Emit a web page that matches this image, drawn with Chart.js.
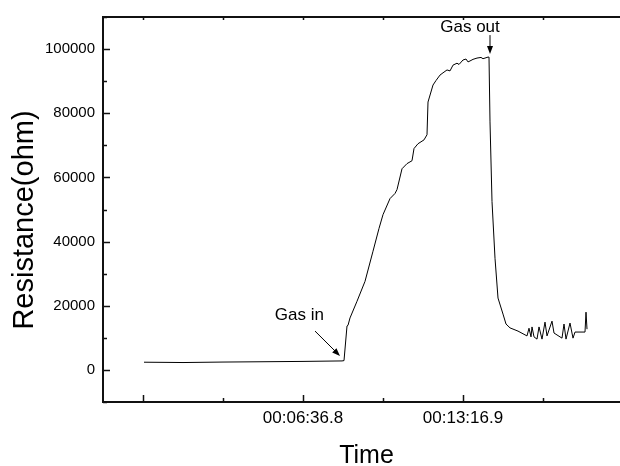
<!DOCTYPE html>
<html>
<head>
<meta charset="utf-8">
<script src="https://cdn.jsdelivr.net/npm/chart.js@4"></script>
<style>
  html, body { margin: 0; padding: 0; overflow: hidden; background: #fff; }
  #wrap { width: 620px; height: 466px; overflow: hidden; }
</style>
</head>
<body>
<div id="wrap"><canvas id="sensorChart" width="630" height="466"></canvas></div>
<script>
// time in seconds (0 = first x tick), resistance in ohm
const timeSec = [
  2.5, 60, 100, 200, 300, 400, 497.5, 502.5,
  510, 512.5, 517.5, 535, 555, 575, 590, 600, 617.5, 630, 635,
  647.5, 660, 672.5, 677.5, 687.5, 702.5, 710, 712.5, 725, 732.5, 742.5,
  750, 760, 767.5, 775, 785, 790, 800, 807.5, 812.5, 817.5, 825, 835, 845, 850, 862.5, 865,
  867.5, 872.5, 880, 887.5, 900, 907.5, 917.5, 937.5, 960,
  965, 970, 972.5, 977.5, 985, 990, 997.5, 1005, 1010, 1022.5,
  1027.5, 1047.5, 1052.5, 1057.5, 1067.5, 1075, 1080, 1105, 1107.5, 1110
];
const resistance = [
  2400, 2350, 2300, 2450, 2550, 2650, 2800, 2900,
  13700, 13900, 16200, 21400, 27600, 37000, 44100, 48400, 53400, 55000, 56200,
  62700, 64300, 65200, 69000, 70500, 71700, 73300, 83500, 88800, 90200, 91900,
  92600, 93500, 93200, 95000, 95600, 95200, 96600, 96900, 96000, 96300, 96800, 97200, 97400, 97000, 97500, 97500,
  77300, 52500, 34800, 22400, 17400, 14300, 13100, 12100, 10600,
  13000, 10300, 13400, 10300, 9600, 13400, 9600, 14900, 10600, 15200,
  11500, 9900, 14300, 9600, 14600, 9900, 11800, 11800, 18000, 12700
];

const xTicks = [0, 200, 400, 600, 800, 1000];
const xTickLabels = ['', '', '00:06:36.8', '', '00:13:16.9', ''];
const xMajor = [0, 400, 800];

// annotations: label, text anchor (x, y), arrow tail (x, y), arrow tip (x, y)
const noteLabels = ['Gas in', 'Gas out'];
const noteText = [[391, 15530], [817.5, 105290]];
const noteTail = [[430, 12110], [867.5, 104360]];
const noteTip = [[492.5, 4350], [867.5, 98460]];

const FONT = '"Liberation Sans", Arial, sans-serif';

const framePlugin = {
  id: 'frame',
  afterDraw(chart) {
    const { ctx, chartArea: a, scales } = chart;
    const xs = scales.x, ys = scales.y;
    ctx.save();
    ctx.strokeStyle = '#111';
    ctx.lineWidth = 2;
    ctx.beginPath();
    ctx.moveTo(a.right + 5, a.top); ctx.lineTo(a.left, a.top);
    ctx.lineTo(a.left, a.bottom); ctx.lineTo(a.right + 5, a.bottom);
    ctx.stroke();

    ctx.lineWidth = 1.5;
    ctx.beginPath();
    xTicks.forEach(v => {
      const px = Math.round(xs.getPixelForValue(v)) + 0.5;
      const len = xMajor.includes(v) ? 7 : 4;
      ctx.moveTo(px, a.bottom); ctx.lineTo(px, a.bottom - len);
      ctx.moveTo(px, a.top); ctx.lineTo(px, a.top + 3);
    });
    for (let v = -10000; v <= 110000; v += 10000) {
      const py = Math.round(ys.getPixelForValue(v)) + 0.5;
      const len = (v % 20000 === 0) ? 7 : 4;
      ctx.moveTo(a.left, py); ctx.lineTo(a.left + len, py);
    }
    ctx.stroke();

    // annotations
    ctx.fillStyle = '#000';
    ctx.strokeStyle = '#000';
    ctx.lineWidth = 1;
    ctx.font = '17px ' + FONT;
    ctx.textAlign = 'center';
    ctx.textBaseline = 'alphabetic';
    noteLabels.forEach((lab, i) => {
      ctx.fillText(lab, xs.getPixelForValue(noteText[i][0]), ys.getPixelForValue(noteText[i][1]));
      const x0 = xs.getPixelForValue(noteTail[i][0]), y0 = ys.getPixelForValue(noteTail[i][1]);
      const x1 = xs.getPixelForValue(noteTip[i][0]), y1 = ys.getPixelForValue(noteTip[i][1]);
      const ang = Math.atan2(y1 - y0, x1 - x0);
      ctx.beginPath();
      ctx.moveTo(x0, y0); ctx.lineTo(x1 - 5 * Math.cos(ang), y1 - 5 * Math.sin(ang));
      ctx.stroke();
      ctx.beginPath();
      ctx.moveTo(x1, y1);
      ctx.lineTo(x1 - 8 * Math.cos(ang) + 3 * Math.sin(ang), y1 - 8 * Math.sin(ang) - 3 * Math.cos(ang));
      ctx.lineTo(x1 - 8 * Math.cos(ang) - 3 * Math.sin(ang), y1 - 8 * Math.sin(ang) + 3 * Math.cos(ang));
      ctx.closePath();
      ctx.fill();
    });

    // axis titles
    ctx.font = '25px ' + FONT;
    ctx.textBaseline = 'alphabetic';
    ctx.fillText('Time', 366.5, 463);
    ctx.save();
    ctx.translate(33, 220);
    ctx.rotate(-Math.PI / 2);
    ctx.font = '29px ' + FONT;
    ctx.fillText('Resistance(ohm)', 0, 0);
    ctx.restore();
    ctx.restore();
  }
};

const chart = new Chart(document.getElementById('sensorChart'), {
  type: 'line',
  data: {
    datasets: [{
      label: 'Resistance',
      data: timeSec.map((t, i) => ({ x: t, y: resistance[i] })),
      borderColor: '#000',
      borderWidth: 1,
      pointRadius: 0,
      tension: 0,
      fill: false
    }]
  },
  options: {
    responsive: false,
    animation: false,
    devicePixelRatio: 1,
    layout: { padding: { top: 15, left: 0, right: 0, bottom: 0 } },
    plugins: { legend: { display: false }, tooltip: { enabled: false } },
    scales: {
      x: {
        type: 'linear',
        min: -100,
        max: 1217.5,
        grid: { display: false, drawTicks: false },
        border: { display: false },
        afterBuildTicks: s => { s.ticks = xTicks.map(v => ({ value: v })); },
        afterFit: s => { s.height = 64; },
        ticks: {
          autoSkip: false,
          maxRotation: 0,
          padding: 6,
          color: '#000',
          font: { family: FONT, size: 17 },
          callback: v => xTickLabels[xTicks.indexOf(v)] ?? ''
        }
      },
      y: {
        min: -10000,
        max: 110000,
        grid: { display: false, drawTicks: false },
        border: { display: false },
        afterFit: s => { s.width = 103; },
        ticks: {
          stepSize: 10000,
          autoSkip: false,
          padding: 8,
          color: '#000',
          font: { family: FONT, size: 15 },
          callback: v => (v % 20000 === 0 && v >= 0 && v <= 100000) ? String(v) : ''
        }
      }
    }
  },
  plugins: [framePlugin]
});
</script>
</body>
</html>
